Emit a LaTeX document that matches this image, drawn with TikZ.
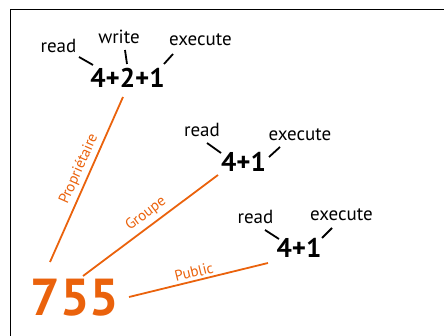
\documentclass[tikz,border=0pt]{standalone}
\usepackage{fontspec}
\setmainfont{PT Sans}
\definecolor{perm}{RGB}{234,98,12}
\begin{document}
\begin{tikzpicture}[x=1pt,y=-1pt,
  lbl/.style={anchor=base,inner sep=0pt,font=\fontsize{19}{19}\selectfont},
  num/.style={anchor=base,inner sep=0pt,font=\fontsize{27}{27}\selectfont\bfseries},
  tick/.style={line width=1.8pt},
  link/.style={draw=perm,line width=1.8pt},
  llab/.style={text=perm,inner sep=0pt,font=\fontsize{15}{15}\selectfont}]
\useasboundingbox (0,0) rectangle (444,336);
\draw[line width=1.2pt] (10.5,336) -- (10.5,9.5) -- (444,9.5);
% group 1
\node[lbl] (r1) at (58.5,53) {read};
\node[lbl] (w1) at (119,44) {write};
\node[lbl] (e1) at (200.5,46) {execute};
\node[num] (n1) at (127.5,88) {4+2+1};
\coordinate (r1a) at (79,57); \coordinate (r1b) at (93,65);
\coordinate (w1a) at (125,50); \coordinate (w1b) at (127,64);
\coordinate (e1a) at (173,54); \coordinate (e1b) at (164,64);
\draw[tick] (r1a) -- (r1b);
\draw[tick] (w1a) -- (w1b);
\draw[tick] (e1a) -- (e1b);
% group 2
\node[lbl] (r2) at (202,137) {read};
\node[lbl] (e2) at (300,141) {execute};
\node[num] (n2) at (243.5,172) {4+1};
\coordinate (r2a) at (207,143); \coordinate (r2b) at (221,153);
\coordinate (e2a) at (280,147); \coordinate (e2b) at (269,157);
\draw[tick] (r2a) -- (r2b);
\draw[tick] (e2a) -- (e2b);
% group 3
\node[lbl] (r3) at (255.5,224) {read};
\node[lbl] (e3) at (341.5,221) {execute};
\node[num] (n3) at (299,258) {4+1};
\coordinate (r3a) at (265,230); \coordinate (r3b) at (279,239);
\coordinate (e3a) at (332,228); \coordinate (e3b) at (322,238);
\draw[tick] (r3a) -- (r3b);
\draw[tick] (e3a) -- (e3b);
% 755
\node[anchor=base,inner sep=0pt,text=perm,font=\fontsize{52}{52}\selectfont\bfseries] (m) at (75,316) {755};
\coordinate (p1) at (123,97); \coordinate (p2) at (50,262);
\coordinate (g1) at (218,175); \coordinate (g2) at (83,276);
\coordinate (u1) at (268,263); \coordinate (u2) at (129,297);
\draw[link] (p1) -- (p2);
\draw[link] (g1) -- (g2);
\draw[link] (u1) -- (u2);
\node[llab,rotate=66] (lp) at (79,169) {Propriétaire};
\node[llab,rotate=36.8] (lg) at (146,214) {Groupe};
\node[llab,rotate=13.7] (lu) at (194,272) {Public};
\end{tikzpicture}
\end{document}
